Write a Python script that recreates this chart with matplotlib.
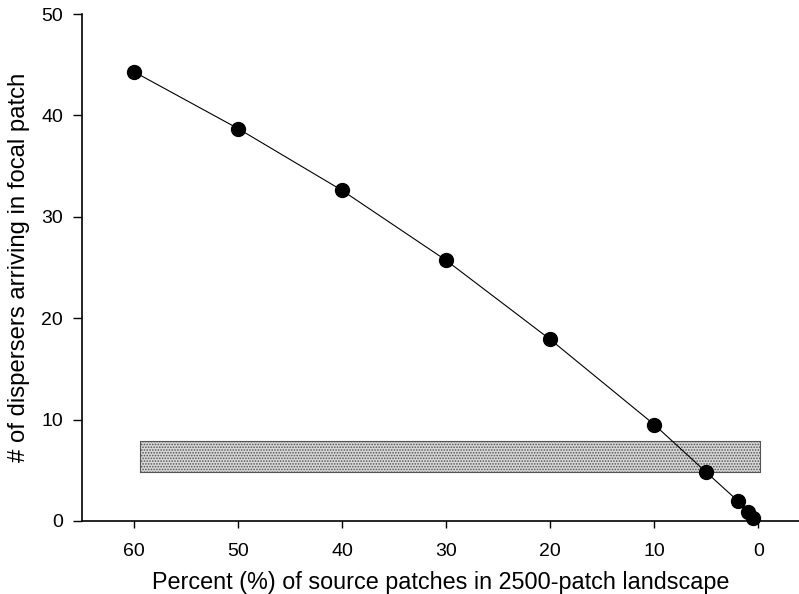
import matplotlib
matplotlib.use('Agg')
import matplotlib.pyplot as plt

# percent of source patches vs dispersers arriving
percent = [60, 50, 40, 30, 20, 10, 5, 2, 1, 0.5]
dispersers = [44.3, 38.7, 32.6, 25.7, 17.9, 9.5, 4.8, 2.0, 0.9, 0.3]

# shaded band
band_x = [59.4, -0.2]
band_y = [4.8, 7.9]

plt.rcParams['font.family'] = ['Liberation Sans', 'DejaVu Sans']
plt.rcParams['hatch.color'] = '#444444'
plt.rcParams['hatch.linewidth'] = 0.8

fig = plt.figure(figsize=(7.99, 5.94), dpi=100)
ax = fig.add_axes([0.1026, 0.1229, 0.8974, 0.8535])

ax.fill_between(band_x, band_y[0], band_y[1], facecolor='#d8d8d8',
                edgecolor='#555555', hatch='......', linewidth=0.8, zorder=1)
ax.plot(percent, dispersers, color='black', linewidth=0.8, marker='o',
        markersize=10, markerfacecolor='black', zorder=3, clip_on=False)

ax.set_xlim(65, -3.9)
ax.set_ylim(0, 50)
ax.set_xticks([60, 50, 40, 30, 20, 10, 0])
ax.set_yticks([0, 10, 20, 30, 40, 50])
ax.spines['top'].set_visible(False)
ax.spines['right'].set_visible(False)
ax.spines['left'].set_linewidth(1.2)
ax.spines['bottom'].set_linewidth(1.2)
ax.tick_params(direction='out', width=1, labelsize=14)
ax.tick_params(axis='x', length=5, pad=11)
ax.tick_params(axis='y', length=6.5, pad=7)
ax.set_xlabel('Percent (%) of source patches in 2500-patch landscape', fontsize=16.8, labelpad=8)
ax.set_ylabel('# of dispersers arriving in focal patch', fontsize=17.2, labelpad=8.5)

fig.savefig('out.png', dpi=100)
